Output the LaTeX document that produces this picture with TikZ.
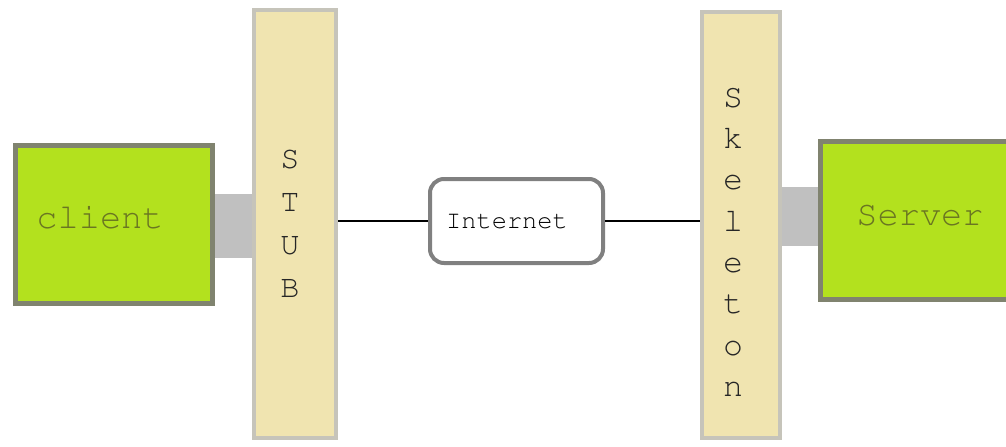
\documentclass[tikz,border=0pt]{standalone}
\usepackage[T1]{fontenc}
\usepackage{tikz}
\usepackage{xcolor}

\definecolor{peergreen}{HTML}{B3E11E}
\definecolor{peeredge}{HTML}{80836F}
\definecolor{peertext}{HTML}{6A7622}
\definecolor{barfill}{HTML}{F0E4B0}
\definecolor{baredge}{HTML}{C6C4BA}
\definecolor{portgray}{HTML}{C0C0C0}
\definecolor{netedge}{HTML}{808080}
\newcommand{\cour}{\fontfamily{pcr}\selectfont}

\begin{document}
\begin{tikzpicture}[x=0.75pt,y=-0.75pt,
  peer/.style={draw=peeredge,line width=3.75pt,fill=peergreen,
    minimum width=148pt,minimum height=118.5pt,inner sep=0pt},
  peerlabel/.style={inner sep=0pt,text=peertext,
    font=\cour\fontsize{26.5}{30}\selectfont},
  proxy/.style={draw=baredge,line width=3pt,fill=barfill,inner sep=0pt},
  barletters/.style={align=center,inner sep=0pt,text=black!85,
    font=\cour\fontsize{24}{32.25}\selectfont},
  port/.style={draw=portgray,line width=48pt},
  net/.style={draw=netedge,line width=3pt,rounded corners=10.5pt,
    minimum width=129.75pt,minimum height=63pt,inner sep=0pt},
  netlabel/.style={inner sep=0pt,font=\cour\fontsize{19}{22}\selectfont},
  wire/.style={draw=black,line width=1.1pt}]
\clip (0,0) rectangle (1006,446);
\fill[white] (0,0) rectangle (1006,446);

% end points and middle-ware bars
\node[peer] (client) at (113.9,224.5) {};
\node[peer] (server) at (919,220.5) {};
\node[proxy,minimum width=61.5pt,minimum height=321pt] (stub) at (295,224) {};
\node[proxy,minimum width=58.5pt,minimum height=319.5pt] (skel) at (741,225) {};
\node[peerlabel] (clientlabel) at (100,217) {client};
\node[peerlabel] (serverlabel) at (920,215) {Server};
\node[barletters] (stubtext) at (290,223) {S\\T\\U\\B};
\node[barletters,font=\cour\fontsize{25}{31}\selectfont] (skeltext) at (733,242)
  {S\\k\\e\\l\\e\\t\\o\\n};

% gray ports between peers and bars
\draw[port] (client.east |- 0,226) -- (stub.west |- 0,226);
\draw[port,line width=44pt] (skel.east |- 0,216.5) -- (server.west |- 0,216.5);

% the network in the middle
\node[net] (internet) at (516.5,221) {};
\node[netlabel] (netlabel) at (507,222) {Internet};
\draw[wire] (stub.east |- internet.west) -- (internet.west);
\draw[wire] (internet.east) -- (skel.west |- internet.east);
\end{tikzpicture}
\end{document}
